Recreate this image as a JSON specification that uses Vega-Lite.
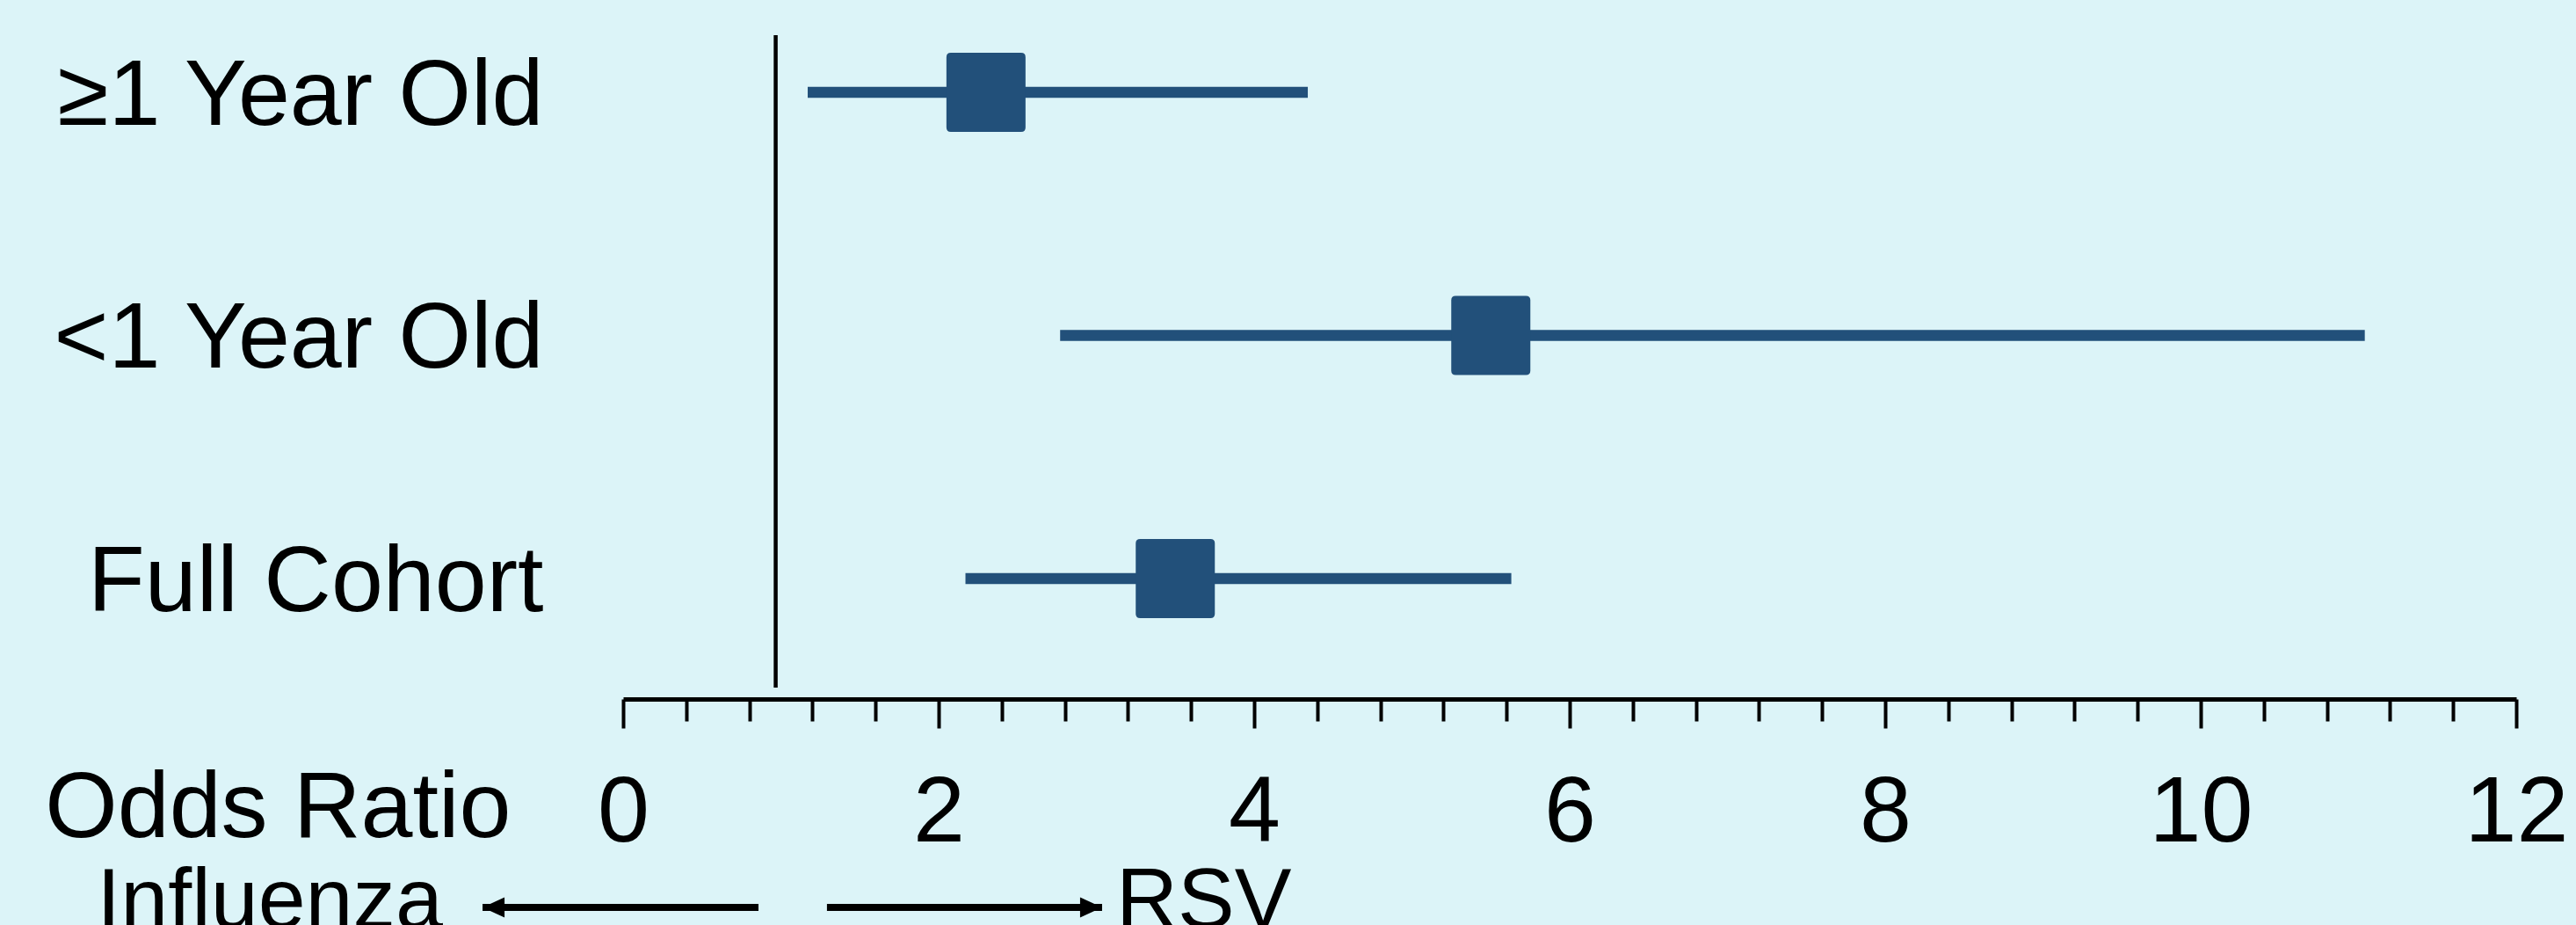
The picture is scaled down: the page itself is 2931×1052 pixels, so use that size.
{
  "$schema": "https://vega.github.io/schema/vega-lite/v6.json",
  "width": 2154,
  "height": 742,
  "autosize": {"type": "none"},
  "padding": {"left": 709, "top": 40, "right": 68, "bottom": 270},
  "background": "#DCF4F8",
  "config": {"view": {"stroke": null}, "font": "Liberation Sans"},
  "data": {
    "values": [
      {"group": "≥1 Year Old", "or": 2.3, "lo": 1.17, "hi": 4.34},
      {"group": "<1 Year Old", "or": 5.5, "lo": 2.77, "hi": 11.04},
      {"group": "Full Cohort", "or": 3.5, "lo": 2.17, "hi": 5.63}
    ]
  },
  "resolve": {"scale": {"y": "independent"}, "axis": {"x": "independent"}},
  "layer": [
    {
      "mark": {"type": "rule", "strokeWidth": 12.5, "color": "#22507A"},
      "encoding": {
        "x": {
          "field": "lo", "type": "quantitative",
          "scale": {"domain": [0, 12], "nice": false, "zero": false},
          "axis": {
            "orient": "bottom",
            "values": [0, 2, 4, 6, 8, 10, 12], "format": "d", "offset": 13,
            "domainColor": "black", "domainWidth": 5,
            "tickColor": "black", "tickWidth": 4, "tickSize": 33,
            "labelFontSize": 106, "labelFont": "Liberation Sans", "labelColor": "black",
            "labelPadding": 128, "labelBaseline": "alphabetic",
            "labelFlush": false, "labelOverlap": false, "labelBound": false,
            "grid": false,
            "title": "Odds Ratio", "titleFont": "Liberation Sans", "titleFontSize": 106,
            "titleFontWeight": "normal", "titleColor": "black",
            "titleX": -128, "titleY": 156, "titleAlign": "right", "titleBaseline": "alphabetic", "titleAngle": 0
          }
        },
        "x2": {"field": "hi"},
        "y": {
          "field": "group", "type": "nominal", "sort": null,
          "scale": {"type": "point", "padding": 0.3418, "align": 0.344},
          "axis": {
            "orient": "left",
            "title": null, "domain": false, "ticks": false, "tickSize": 0, "grid": false,
            "labelPadding": 91, "labelFontSize": 106, "labelFont": "Liberation Sans",
            "labelColor": "black", "labelBaseline": "alphabetic", "labelOffset": 36,
            "labelAlign": "right", "labelLimit": 0
          }
        }
      }
    },
    {
      "mark": {
        "type": "point", "filled": true, "opacity": 1, "color": "#22507A", "size": 8100,
        "shape": "M-0.89,-1L0.89,-1Q1,-1 1,-0.89L1,0.89Q1,1 0.89,1L-0.89,1Q-1,1 -1,0.89L-1,-0.89Q-1,-1 -0.89,-1Z"
      },
      "encoding": {
        "x": {
          "field": "or", "type": "quantitative",
          "scale": {"domain": [0, 12], "nice": false, "zero": false},
          "axis": {
            "orient": "bottom",
            "values": [0.4, 0.8, 1.2, 1.6, 2.4, 2.8, 3.2, 3.6, 4.4, 4.8, 5.2, 5.6, 6.4, 6.8, 7.2, 7.6, 8.4, 8.8, 9.2, 9.6, 10.4, 10.8, 11.2, 11.6],
            "offset": 13, "domain": false, "labels": false, "grid": false, "title": null,
            "tickColor": "black", "tickWidth": 4, "tickSize": 25
          }
        },
        "y": {
          "field": "group", "type": "nominal", "sort": null,
          "scale": {"type": "point", "padding": 0.3418, "align": 0.344},
          "axis": null
        }
      }
    },
    {
      "data": {"values": [{"ref": 0.967}]},
      "mark": {"type": "rule", "color": "black", "strokeWidth": 4.5},
      "encoding": {
        "x": {"field": "ref", "type": "quantitative", "scale": {"domain": [0, 12], "nice": false, "zero": false}, "axis": null}
      }
    },
    {
      "data": {"values": [
        {"start": -0.891, "end": 0.858, "lane": -0.337},
        {"start": 1.292, "end": 3.036, "lane": -0.337}
      ]},
      "mark": {"type": "rule", "color": "black", "strokeWidth": 8},
      "encoding": {
        "x": {"field": "start", "type": "quantitative", "scale": {"domain": [0, 12], "nice": false, "zero": false}, "axis": null},
        "x2": {"field": "end"},
        "y": {"field": "lane", "type": "quantitative", "scale": {"domain": [0, 1], "nice": false, "zero": false}, "axis": null}
      }
    },
    {
      "data": {"values": [
        {"tip": -0.891, "dir": "left", "lane": -0.337},
        {"tip": 3.036, "dir": "right", "lane": -0.337}
      ]},
      "mark": {"type": "point", "filled": true, "opacity": 1, "color": "black", "size": 625},
      "encoding": {
        "x": {"field": "tip", "type": "quantitative", "scale": {"domain": [0, 12], "nice": false, "zero": false}, "axis": null},
        "y": {"field": "lane", "type": "quantitative", "scale": {"domain": [0, 1], "nice": false, "zero": false}, "axis": null},
        "shape": {
          "field": "dir", "type": "nominal", "legend": null,
          "scale": {"domain": ["left", "right"], "range": ["M0,0L2,-0.92L2,0.92Z", "M0,0L-2,-0.92L-2,0.92Z"]}
        }
      }
    },
    {
      "data": {"values": [{"label": "Influenza", "x": -1.142, "lane": -0.337}]},
      "mark": {"type": "text", "align": "right", "baseline": "alphabetic", "dy": 23, "fontSize": 97, "font": "Liberation Sans", "color": "black"},
      "encoding": {
        "x": {"field": "x", "type": "quantitative", "scale": {"domain": [0, 12], "nice": false, "zero": false}, "axis": null},
        "y": {"field": "lane", "type": "quantitative", "scale": {"domain": [0, 1], "nice": false, "zero": false}, "axis": null},
        "text": {"field": "label"}
      }
    },
    {
      "data": {"values": [{"label": "RSV", "x": 3.125, "lane": -0.337}]},
      "mark": {"type": "text", "align": "left", "baseline": "alphabetic", "dy": 23, "fontSize": 97, "font": "Liberation Sans", "color": "black"},
      "encoding": {
        "x": {"field": "x", "type": "quantitative", "scale": {"domain": [0, 12], "nice": false, "zero": false}, "axis": null},
        "y": {"field": "lane", "type": "quantitative", "scale": {"domain": [0, 1], "nice": false, "zero": false}, "axis": null},
        "text": {"field": "label"}
      }
    }
  ]
}
